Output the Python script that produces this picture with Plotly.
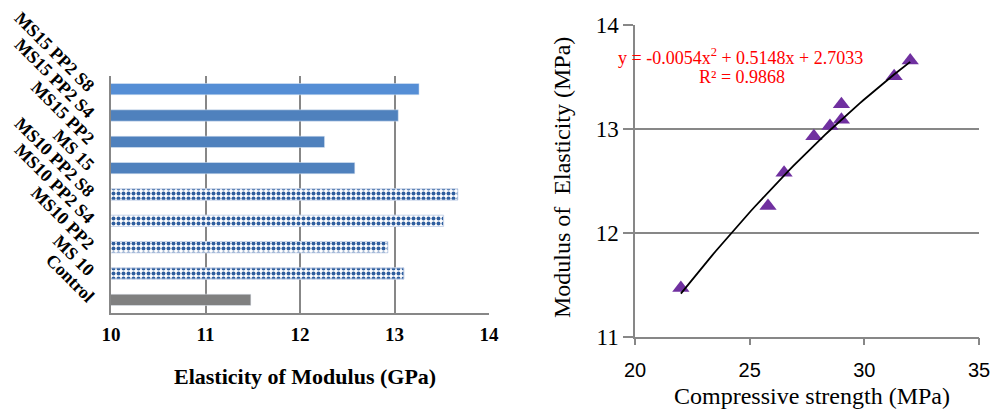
import numpy as np
import plotly.graph_objects as go

# ---- data ----
mixes = ["Control", "MS 10", "MS10 PP2", "MS10 PP2 S4", "MS10 PP2 S8",
         "MS 15", "MS15 PP2", "MS15 PP2 S4", "MS15 PP2 S8"]
modulus_gpa = [11.48, 13.10, 12.93, 13.52, 13.67, 12.58, 12.26, 13.04, 13.26]

comp_strength = [22.0, 29.0, 27.8, 31.3, 32.0, 26.5, 25.8, 28.5, 29.0]
modulus_mpa = [11.47, 13.09, 12.93, 13.51, 13.66, 12.58, 12.26, 13.03, 13.24]

trend_coef = [-0.0054, 0.5148, 2.7033]
r_squared = 0.9868

x_ticks_left = [10, 11, 12, 13, 14]
x_ticks_right = [20, 25, 30, 35]
y_ticks_right = [11, 12, 13, 14]

# page body has an 8px margin: build the figure in page pixels minus that offset
OFF = 8
W, H = 998 - OFF, 413 - OFF
def px_x(p): return (p - OFF) / W
def px_y(p): return 1 - (p - OFF) / H

fig = go.Figure()

# ---- left: horizontal bars ----
groups = {
    "control": (["Control"], dict(color="#808080")),
    "ms10": (["MS 10", "MS10 PP2", "MS10 PP2 S4", "MS10 PP2 S8"],
             dict(color="white", line=dict(color="#C9D5EA", width=1),
                  pattern=dict(shape=".", fgcolor="#2F5E9E", bgcolor="white",
                               size=5, solidity=0.5, fillmode="replace"))),
    "ms15": (["MS 15", "MS15 PP2", "MS15 PP2 S4"], dict(color="#4F81BD")),
    "ms15s8": (["MS15 PP2 S8"], dict(color="#558ED5")),
}
for name, (cats, marker) in groups.items():
    vals = [modulus_gpa[mixes.index(c)] for c in cats]
    fig.add_trace(go.Bar(y=cats, x=vals, orientation="h", marker=marker,
                         width=0.43, xaxis="x", yaxis="y", showlegend=False,
                         name=name))

# ---- right: scatter + polynomial trendline ----
fig.add_trace(go.Scatter(x=comp_strength, y=modulus_mpa, mode="markers",
                         marker=dict(symbol="triangle-up", size=15, color="#7030A0"),
                         xaxis="x2", yaxis="y2", showlegend=False))
xs = np.linspace(min(comp_strength), max(comp_strength), 60)
ys = np.polyval(trend_coef, xs)
fig.add_trace(go.Scatter(x=xs, y=ys, mode="lines",
                         line=dict(color="black", width=1.8),
                         xaxis="x2", yaxis="y2", showlegend=False))

grid = "#878787"
serif = "Liberation Serif"
fig.update_layout(
    width=W, height=H, margin=dict(l=0, r=0, t=0, b=0),
    plot_bgcolor="white", paper_bgcolor="white",
    xaxis=dict(domain=[px_x(111), px_x(489)], range=[10, 14], automargin=False,
               tickvals=x_ticks_left, showgrid=True, gridcolor=grid, gridwidth=2,
               showline=True, linecolor=grid, linewidth=2,
               ticks="outside", ticklen=3, tickcolor="rgba(0,0,0,0)", zeroline=False,
               tickfont=dict(family=serif, size=19, color="black", weight="bold"),
               anchor="y"),
    yaxis=dict(domain=[px_y(313), px_y(76)], type="category", automargin=False,
               categoryorder="array", categoryarray=mixes,
               range=[-0.5, 8.5], showgrid=False, showline=True,
               linecolor=grid, linewidth=2, ticks="outside", ticklen=12,
               tickcolor="rgba(0,0,0,0)", tickangle=45,
               tickfont=dict(family=serif, size=18, color="black", weight="bold"),
               anchor="x"),
    xaxis2=dict(domain=[px_x(635), px_x(979)], range=[20, 35], automargin=False,
                tickvals=x_ticks_right, showgrid=False, zeroline=False,
                showline=True, linecolor=grid, linewidth=1.5,
                ticks="outside", ticklen=7, tickcolor=grid, tickwidth=1.5,
                ticklabelstandoff=8,
                tickfont=dict(family="Liberation Sans", size=20, color="black"),
                anchor="y2"),
    yaxis2=dict(domain=[px_y(336.7), px_y(25.3)], range=[11, 14], automargin=False,
                tickvals=y_ticks_right, showgrid=True, gridcolor=grid, gridwidth=1.5,
                zeroline=False, showline=True, linecolor=grid, linewidth=1.5,
                ticks="outside", ticklen=10, tickcolor=grid, tickwidth=1.5,
                tickfont=dict(family=serif, size=23, color="black"),
                anchor="x2"),
)

# axis titles
title_kw = dict(xref="paper", yref="paper", showarrow=False,
                xanchor="center", yanchor="middle")
fig.add_annotation(x=px_x(305), y=px_y(376), text="<b>Elasticity of Modulus (GPa)</b>",
                   font=dict(family=serif, size=22, color="black"), **title_kw)
fig.add_annotation(x=px_x(812), y=px_y(396), text="Compressive strength (MPa)",
                   font=dict(family=serif, size=24, color="black"), **title_kw)
fig.add_annotation(x=px_x(562), y=px_y(178), text="Modulus of  Elasticity (MPa)",
                   textangle=-90, font=dict(family=serif, size=24, color="black"),
                   **title_kw)

eq_text = "y = {:.4f}x<sup>2</sup> + {:.4f}x + {:.4f}".format(*trend_coef)
fig.add_annotation(x=24.58, y=13.70, xref="x2", yref="y2", text=eq_text,
                   showarrow=False, font=dict(family=serif, size=18, color="#FF0000"))
fig.add_annotation(x=24.67, y=13.50, xref="x2", yref="y2",
                   text="R² = {:.4f}".format(r_squared),
                   showarrow=False, font=dict(family=serif, size=18, color="#FF0000"))

fig.write_html("out.html")
